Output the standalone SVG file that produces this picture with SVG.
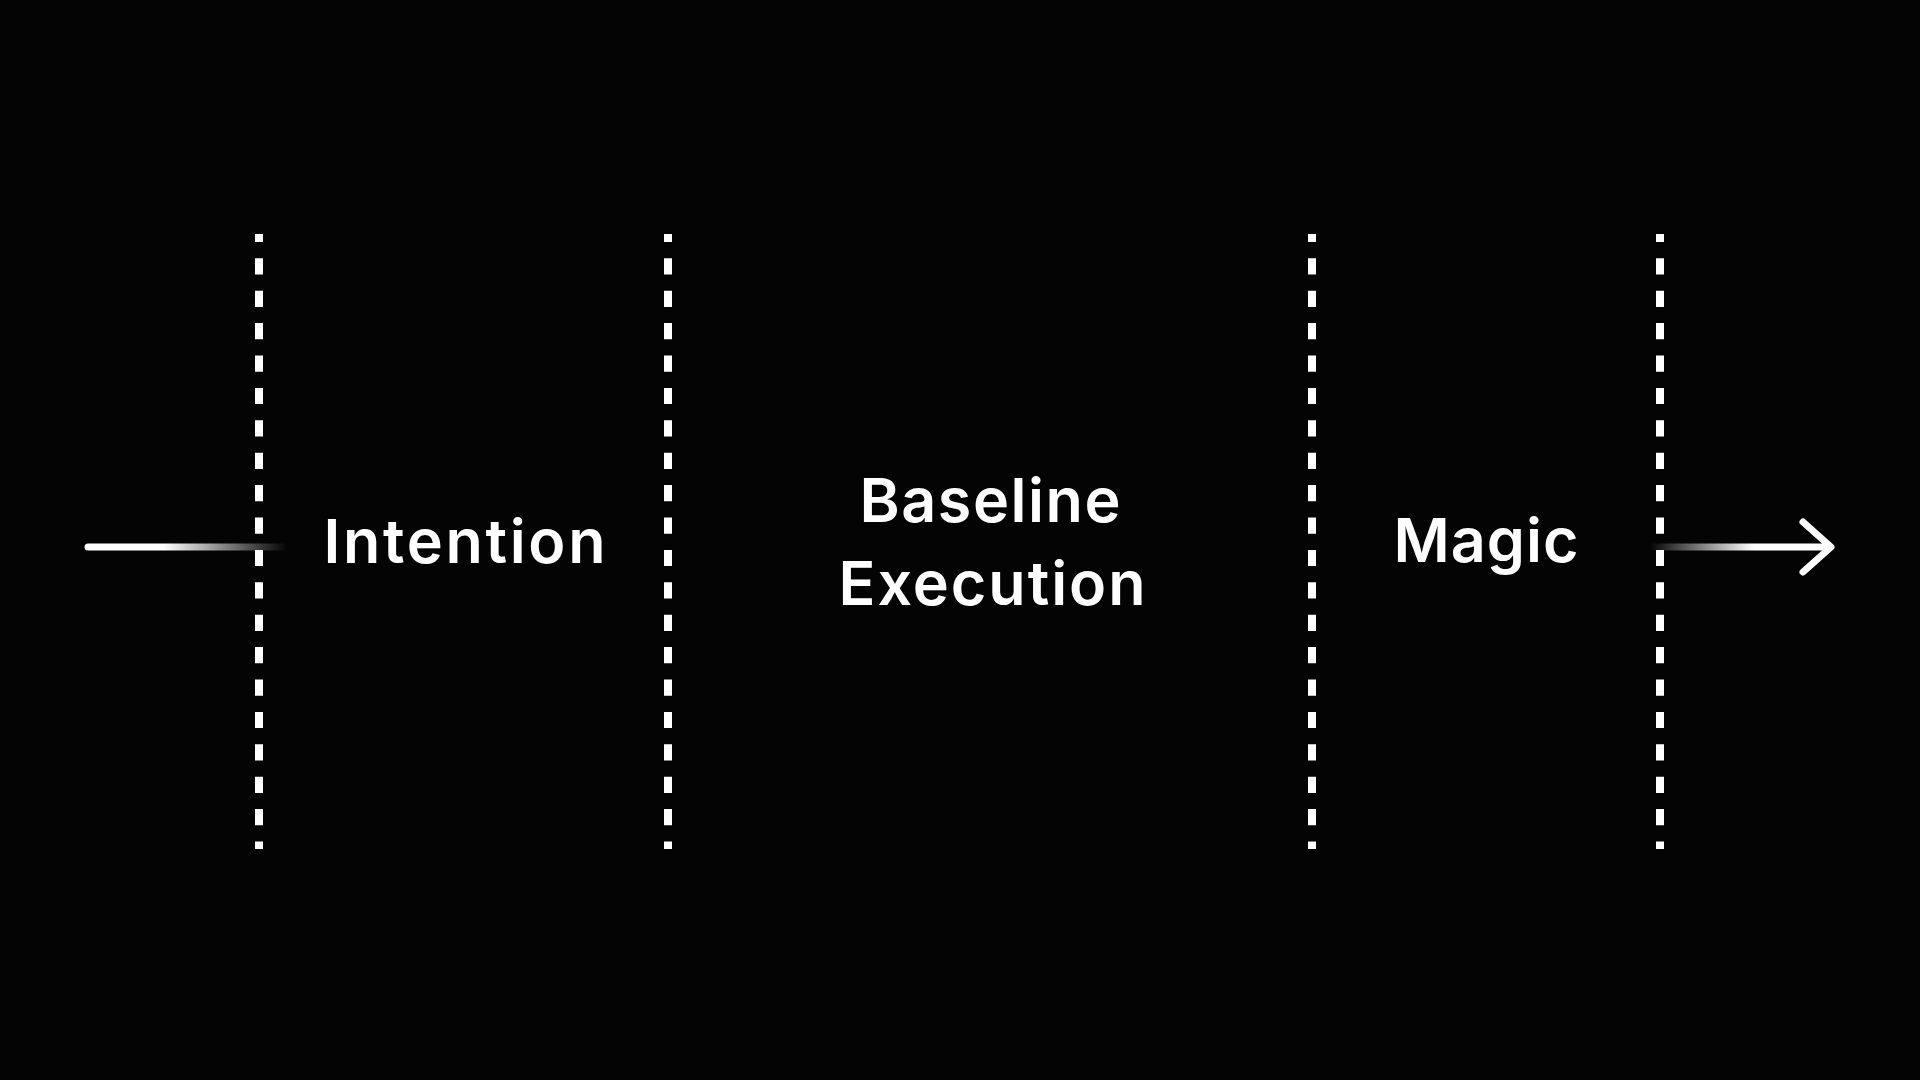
<svg xmlns="http://www.w3.org/2000/svg" width="1920" height="1080" viewBox="0 0 1920 1080">
<defs>
<style>
.div{stroke:#fff;stroke-width:8;stroke-dasharray:16.2 16.2;stroke-dashoffset:8.1;fill:none}
.lbl{font-family:Inter,"Noto Sans",sans-serif;font-weight:600;font-size:61px;fill:#fff;text-anchor:middle}
.ln{stroke-width:7;stroke-linecap:round;fill:none}
</style>
<linearGradient id="gL" gradientUnits="userSpaceOnUse" x1="88" y1="0" x2="287" y2="0">
<stop offset="0" stop-color="#fff"/>
<stop offset="0.38" stop-color="#fff"/>
<stop offset="1" stop-color="#fff" stop-opacity="0"/>
</linearGradient>
<linearGradient id="gR" gradientUnits="userSpaceOnUse" x1="1650" y1="0" x2="1832" y2="0">
<stop offset="0" stop-color="#fff" stop-opacity="0"/>
<stop offset="0.57" stop-color="#fff"/>
<stop offset="1" stop-color="#fff"/>
</linearGradient>
</defs>
<rect width="1920" height="1080" fill="#040404"/>
<g id="dividers">
<line class="div" x1="259" y1="234" x2="259" y2="849"/>
<line class="div" x1="668" y1="234" x2="668" y2="849"/>
<line class="div" x1="1312" y1="234" x2="1312" y2="849"/>
<line class="div" x1="1660" y1="234" x2="1660" y2="849"/>
</g>
<g id="connectors">
<path class="ln" stroke="url(#gL)" d="M88 547 H287"/>
<path class="ln" stroke="url(#gR)" d="M1650 547 H1830"/>
<path class="ln" stroke="#fff" stroke-linejoin="round" d="M1803 522 L1831 547 L1803 572"/>
</g>
<g id="intention"><text class="lbl" x="464.5" y="563" textLength="282" lengthAdjust="spacing">Intention</text></g>
<g id="baseline-execution"><text class="lbl" x="990" y="522" textLength="261" lengthAdjust="spacing">Baseline</text><text class="lbl" x="992" y="605" textLength="307" lengthAdjust="spacing">Execution</text></g>
<g id="magic"><text class="lbl" x="1486" y="562" textLength="185" lengthAdjust="spacing">Magic</text></g>
</svg>
